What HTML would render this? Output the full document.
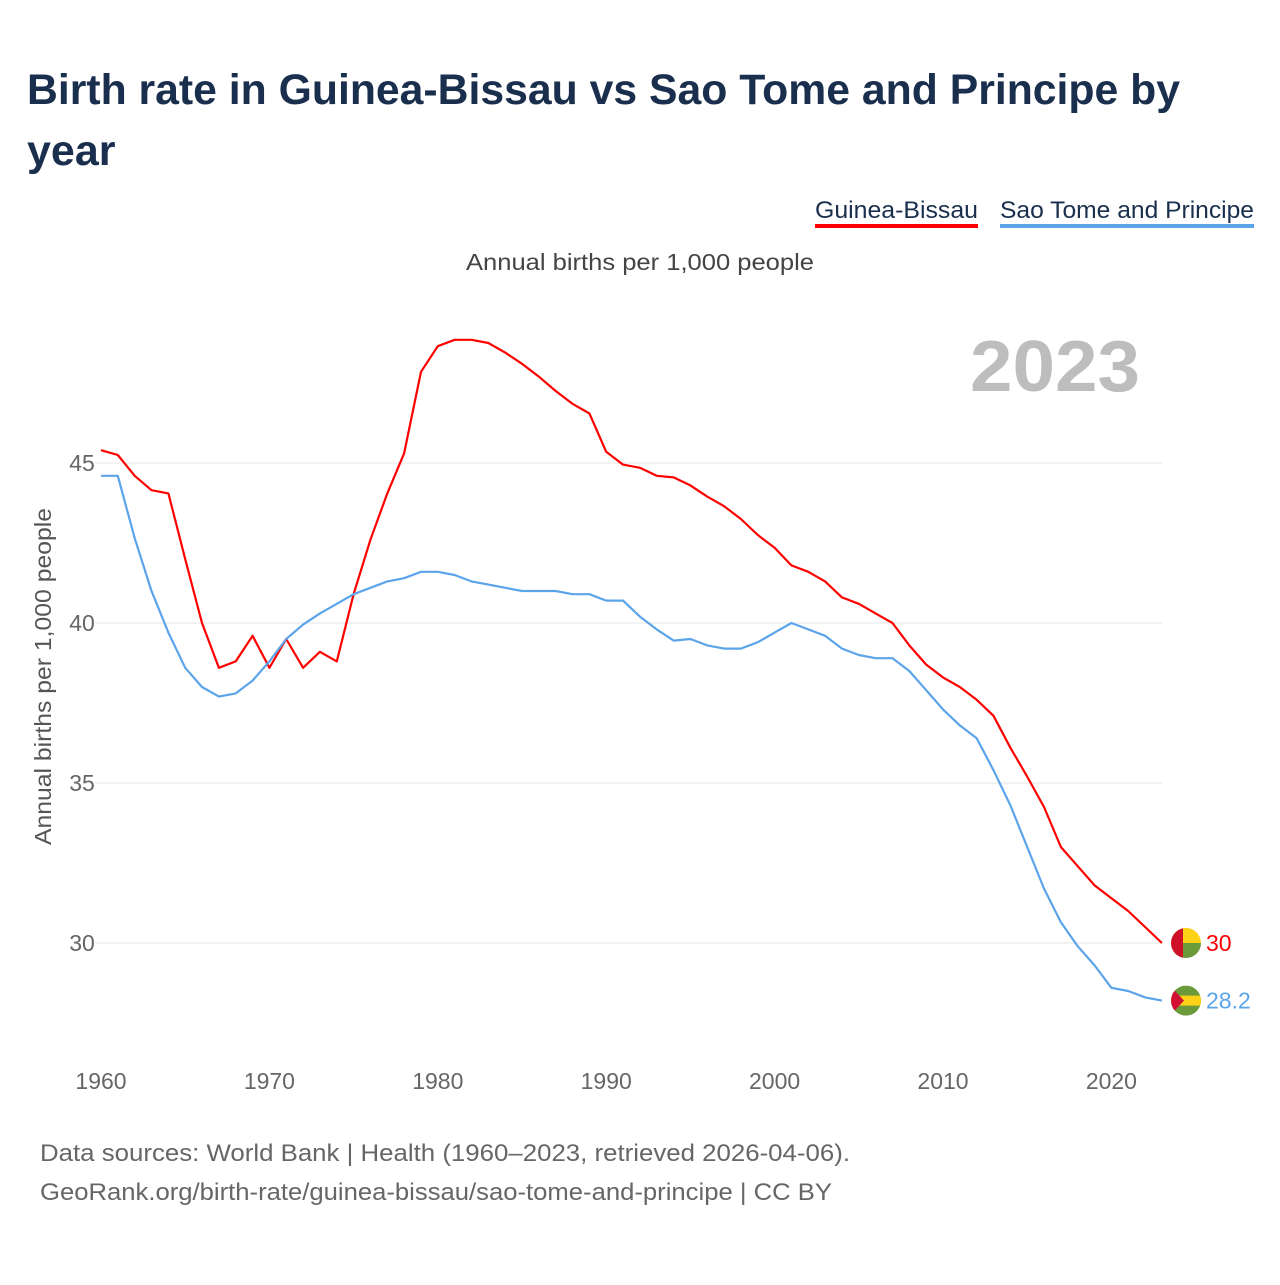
<!DOCTYPE html>
<html><head><meta charset="utf-8">
<style>
body{margin:0;background:#fff;width:1280px;height:1280px;overflow:hidden;font-family:"Liberation Sans",sans-serif;}
</style></head>
<body>
<svg width="1280" height="1280" xmlns="http://www.w3.org/2000/svg" id="chart">
<text x="27" y="104" font-size="43" font-weight="bold" fill="#1a2e4d" textLength="1153" lengthAdjust="spacingAndGlyphs">Birth rate in Guinea-Bissau vs Sao Tome and Principe by</text>
<text x="27" y="165" font-size="43" font-weight="bold" fill="#1a2e4d">year</text>
<g>
<text x="815" y="218" font-size="24" fill="#1a2e4d" textLength="163" lengthAdjust="spacingAndGlyphs">Guinea-Bissau</text>
<rect x="815" y="224" width="163" height="4" fill="#ff0000"/>
</g>
<g>
<text x="1000" y="218" font-size="24" fill="#1a2e4d" textLength="254" lengthAdjust="spacingAndGlyphs">Sao Tome and Principe</text>
<rect x="1000" y="224" width="254" height="4" fill="#5ba4ea"/>
</g>
<text x="466" y="270" font-size="23" fill="#444" textLength="348" lengthAdjust="spacingAndGlyphs">Annual births per 1,000 people</text>
<text x="970" y="391" font-size="72" font-weight="bold" fill="#bdbdbd" textLength="170" lengthAdjust="spacingAndGlyphs">2023</text>
<text transform="translate(51,845) rotate(-90)" font-size="23" fill="#555" textLength="337" lengthAdjust="spacingAndGlyphs">Annual births per 1,000 people</text>
<g id="grid"></g><g id="xticks"></g><g id="lines"></g>
<text x="40" y="1161" font-size="24" fill="#666" textLength="810" lengthAdjust="spacingAndGlyphs">Data sources: World Bank | Health (1960–2023, retrieved 2026-04-06).</text>
<text x="40" y="1200" font-size="24" fill="#666" textLength="792" lengthAdjust="spacingAndGlyphs">GeoRank.org/birth-rate/guinea-bissau/sao-tome-and-principe | CC BY</text>
</svg>
<script>
const years=[];for(let y=1960;y<=2023;y++)years.push(y);
const guineaBissau=[45.4,45.25,44.6,44.15,44.05,42.0,40.0,38.6,38.8,39.6,38.6,39.5,38.6,39.1,38.8,40.9,42.6,44.05,45.3,47.85,48.65,48.85,48.85,48.75,48.45,48.1,47.7,47.25,46.85,46.55,45.35,44.95,44.85,44.6,44.55,44.3,43.95,43.65,43.25,42.75,42.35,41.8,41.6,41.3,40.8,40.6,40.3,40.0,39.3,38.7,38.3,38.0,37.6,37.1,36.1,35.2,34.25,33.0,32.4,31.8,31.4,31.0,30.5,30.0];
const saoTome=[44.6,44.6,42.65,41.0,39.7,38.6,38.0,37.7,37.8,38.2,38.8,39.5,39.95,40.3,40.6,40.9,41.1,41.3,41.4,41.6,41.6,41.5,41.3,41.2,41.1,41.0,41.0,41.0,40.9,40.9,40.7,40.7,40.2,39.8,39.45,39.5,39.3,39.2,39.2,39.4,39.7,40.0,39.8,39.6,39.2,39.0,38.9,38.9,38.5,37.9,37.3,36.8,36.4,35.4,34.3,33.0,31.7,30.65,29.9,29.3,28.6,28.5,28.3,28.2];
const yTicks=[30,35,40,45];
const xTicks=[1960,1970,1980,1990,2000,2010,2020];
const NS="http://www.w3.org/2000/svg";
const xS=y=>101+(y-1960)*16.84;
const yS=v=>943-(v-30)*32;
function mk(tag,attrs,parent){const e=document.createElementNS(NS,tag);for(const k in attrs)e.setAttribute(k,attrs[k]);document.getElementById(parent).appendChild(e);return e;}
yTicks.forEach(t=>{
 const l=mk('line',{x1:95,x2:1162,y1:yS(t),y2:yS(t),stroke:'#e6e6e6','stroke-width':1},'grid');
 
 
 const tx=mk('text',{x:82,y:yS(t)+8,'font-size':23,fill:'#666','text-anchor':'middle'},'grid');
 tx.textContent=t;
 
 
});
xTicks.forEach(t=>{
 const tx=mk('text',{x:xS(t),y:1089,'font-size':23,fill:'#666','text-anchor':'middle'},'xticks');
 tx.textContent=t;
 
 
});
function line(data,color,name){
 const d=data.map((v,i)=>(i?'L':'M')+xS(years[i]).toFixed(1)+','+yS(v).toFixed(1)).join(' ');
 const p=mk('path',{d:d,fill:'none',stroke:color,'stroke-width':2.2,'stroke-linejoin':'round'},'lines');
 
 
}
line(guineaBissau,'#ff0000','line-guinea-bissau');
line(saoTome,'#5ba4ea','line-sao-tome');
const gy=yS(guineaBissau[guineaBissau.length-1]), sy=yS(saoTome[saoTome.length-1]);
const lines=document.getElementById('lines');
lines.insertAdjacentHTML('beforeend',
`<g><clipPath id="c1"><circle cx="1186" cy="${gy}" r="15"/></clipPath><g clip-path="url(#c1)"><rect x="1170" y="${gy-15}" width="32" height="15" fill="#fcd116"/><rect x="1170" y="${gy}" width="32" height="15" fill="#6a9a3a"/><rect x="1170" y="${gy-15}" width="13" height="30" fill="#ce1126"/></g></g>
<text x="1206" y="${gy+8}" font-size="23" fill="#ff0000">30</text>
<g><clipPath id="c2"><circle cx="1186" cy="${sy}" r="15"/></clipPath><g clip-path="url(#c2)"><rect x="1170" y="${sy-15}" width="32" height="30" fill="#6a9a3a"/><rect x="1170" y="${sy-5}" width="32" height="10" fill="#fcd116"/><polygon points="1170,${sy-15} 1184,${sy} 1170,${sy+15}" fill="#d21034"/></g></g>
<text x="1206" y="${sy+8}" font-size="23" fill="#5ba4ea">28.2</text>`);
</script>
</body></html>
